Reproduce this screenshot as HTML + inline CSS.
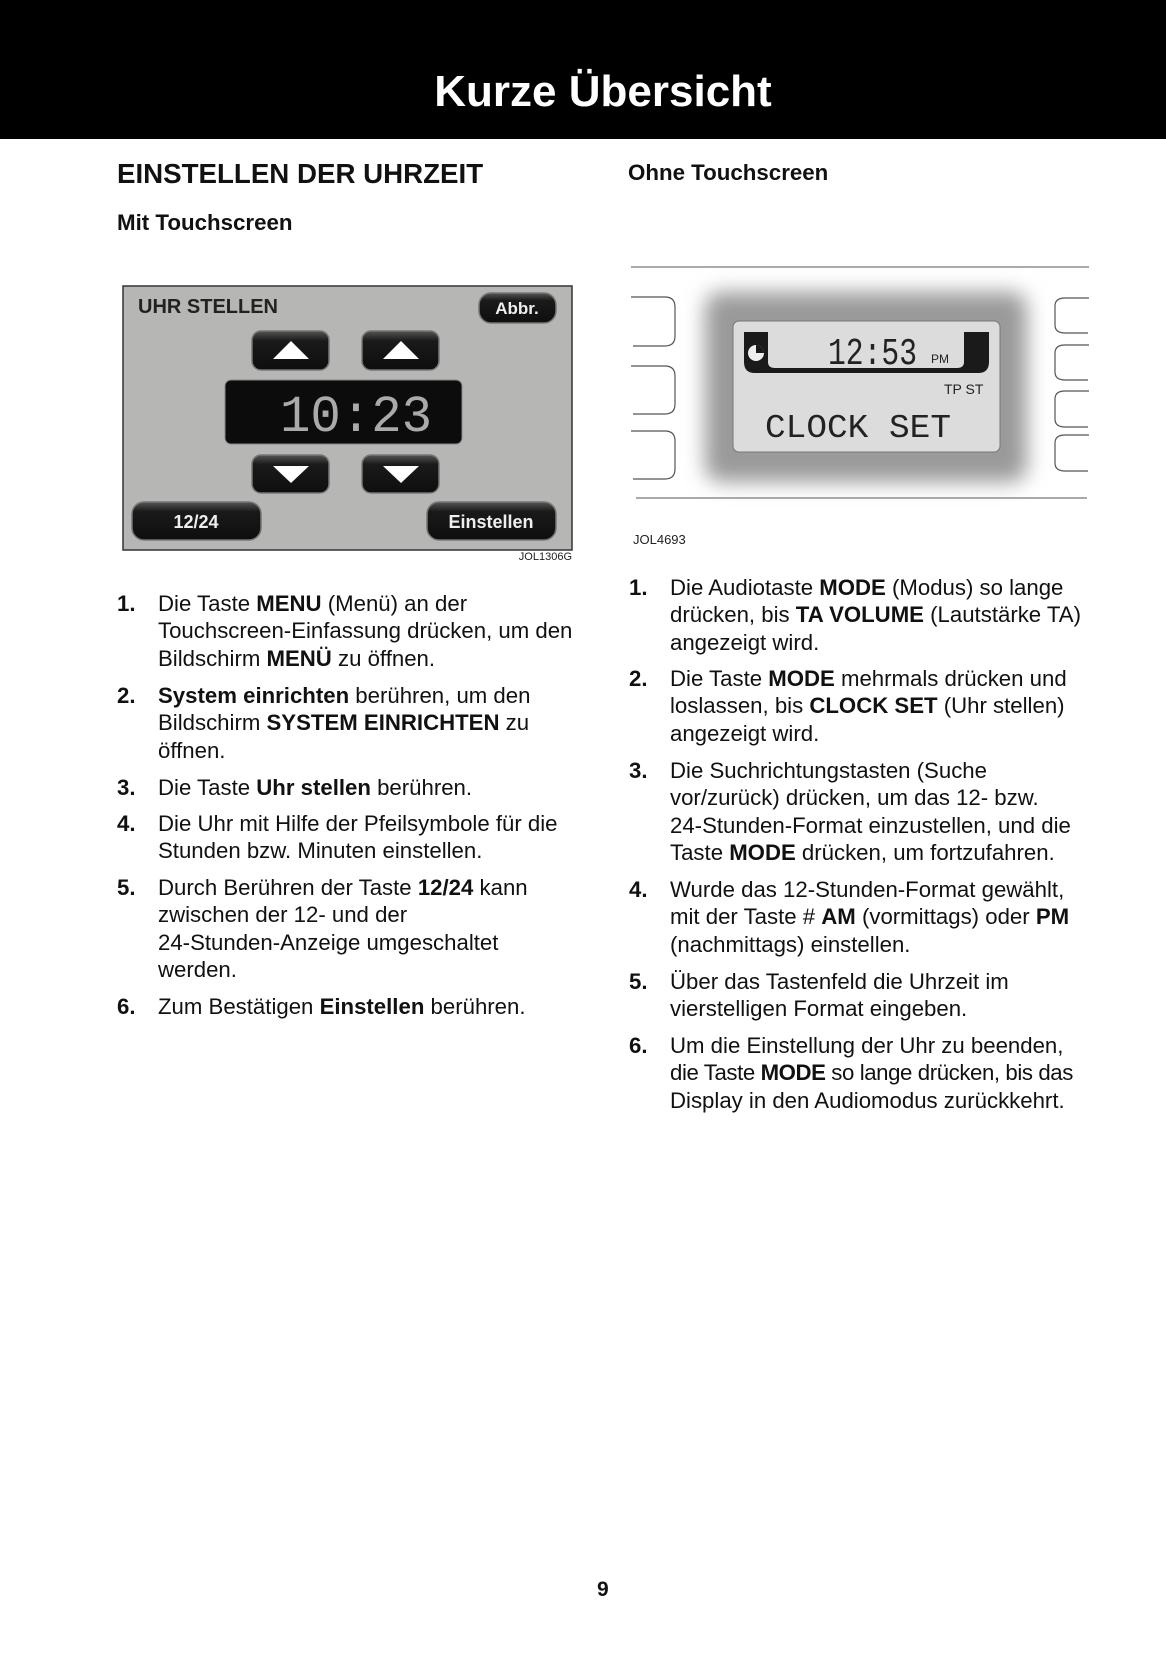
<!DOCTYPE html>
<html><head><meta charset="utf-8">
<style>
*{margin:0;padding:0;box-sizing:border-box}
body{width:1166px;height:1654px;background:#fff;position:relative;overflow:hidden;font-family:"Liberation Sans",Arial,sans-serif;color:#111}
.hdr{position:absolute;left:0;top:0;width:1166px;height:139px;background:#000}
.title{position:absolute;left:0;width:1166px;top:67px;text-align:center;color:#fff;font-weight:bold;font-size:44px;line-height:50px;padding-left:40px}
.h{position:absolute;font-weight:bold;white-space:nowrap}
.item{position:absolute;font-size:22.2px;line-height:27.4px;white-space:nowrap}
.item .n{position:absolute;left:0;top:0;font-weight:bold}
.item .t{position:absolute;top:0;left:41px}
b{font-weight:bold}
</style></head><body>
<div class="hdr"></div>
<div class="title">Kurze Übersicht</div>

<div class="h" style="left:117px;top:158px;font-size:27.7px;line-height:32px">EINSTELLEN DER UHRZEIT</div>
<div class="h" style="left:117px;top:210px;font-size:22.3px;line-height:26px">Mit Touchscreen</div>
<div class="h" style="left:628px;top:160px;font-size:22.3px;line-height:26px">Ohne Touchscreen</div>

<svg style="position:absolute;left:0;top:0" width="1166" height="600">
 <defs>
  <linearGradient id="btn" x1="0" y1="0" x2="0" y2="1"><stop offset="0" stop-color="#555"/><stop offset="0.25" stop-color="#1a1a1a"/><stop offset="1" stop-color="#0e0e0e"/></linearGradient>
  <filter id="blur" x="-20%" y="-20%" width="140%" height="140%"><feGaussianBlur stdDeviation="10"/></filter>
 </defs>
 <rect x="123" y="286" width="449" height="264" fill="#b6b6b4" stroke="#333" stroke-width="1.5"/>
 <text x="138" y="313" font-family="Liberation Sans" font-weight="bold" font-size="20" fill="#222">UHR STELLEN</text>
 <g stroke="#777" stroke-width="1.5" fill="url(#btn)">
  <rect x="479" y="293" width="77" height="30" rx="12"/>
  <rect x="252" y="331" width="77" height="39" rx="9"/>
  <rect x="362" y="331" width="77" height="39" rx="9"/>
  <rect x="252" y="455" width="77" height="38" rx="9"/>
  <rect x="362" y="455" width="77" height="38" rx="9"/>
  <rect x="132" y="502" width="129" height="38" rx="12"/>
  <rect x="427" y="502" width="129" height="38" rx="12"/>
 </g>
 <rect x="225" y="380" width="237" height="64" rx="6" fill="#0c0c0c" stroke="#888" stroke-width="1"/>
 <text x="280" y="431" font-family="Liberation Mono" font-size="52" fill="#aaa" textLength="152" lengthAdjust="spacingAndGlyphs">10:23</text>
 <g fill="#fff">
  <polygon points="273,359 291,341 309,359"/>
  <polygon points="383,359 401,341 419,359"/>
  <polygon points="273,466 309,466 291,483"/>
  <polygon points="383,466 419,466 401,483"/>
 </g>
 <text x="517" y="314" text-anchor="middle" font-family="Liberation Sans" font-weight="bold" font-size="17" fill="#eee">Abbr.</text>
 <text x="196" y="528" text-anchor="middle" font-family="Liberation Sans" font-weight="bold" font-size="18" fill="#eee">12/24</text>
 <text x="491" y="528" text-anchor="middle" font-family="Liberation Sans" font-weight="bold" font-size="18" fill="#eee">Einstellen</text>
 <text x="572" y="560" text-anchor="end" font-family="Liberation Sans" font-size="11" fill="#222">JOL1306G</text>

 <!-- Right figure -->
 <line x1="631" y1="267" x2="1089" y2="267" stroke="#555" stroke-width="1"/>
 <line x1="636" y1="498" x2="1087" y2="498" stroke="#555" stroke-width="1"/>
 <rect x="705" y="292" width="322" height="190" rx="16" fill="#9a9a9a" filter="url(#blur)"/>
 <rect x="733" y="321" width="267" height="131" rx="6" fill="#dcdcdc" stroke="#777" stroke-width="1"/>
 <path d="M744 332 H768 V362 Q768 368 775 368 H957 Q964 368 964 362 V332 H989 V362 Q989 373 978 373 H755 Q744 373 744 362 Z" fill="#1a1a1a"/>
 <circle cx="756" cy="353" r="8" fill="#eee"/>
 <path d="M756 353 V345 A8 8 0 0 1 764 353 Z" fill="#1a1a1a"/>
 <text x="828" y="364" font-family="Liberation Mono" font-size="38" fill="#222" textLength="89" lengthAdjust="spacingAndGlyphs">12:53</text>
 <text x="931" y="363" font-family="Liberation Sans" font-size="12" fill="#222">PM</text>
 <text x="944" y="394" font-family="Liberation Sans" font-size="14" fill="#222">TP  ST</text>
 <text x="765" y="437" font-family="Liberation Mono" font-size="33" fill="#222" textLength="186" lengthAdjust="spacingAndGlyphs">CLOCK SET</text>
 <g fill="none" stroke="#555" stroke-width="1.2">
  <path d="M631 297 H665 Q675 297 675 307 V336 Q675 346 665 346 H633"/>
  <path d="M631 366 H665 Q675 366 675 376 V404 Q675 414 665 414 H633"/>
  <path d="M631 431 H665 Q675 431 675 441 V469 Q675 479 665 479 H633"/>
  <path d="M1089 298 H1065 Q1055 298 1055 306 V325 Q1055 333 1065 333 H1088"/>
  <path d="M1089 345 H1065 Q1055 345 1055 353 V372 Q1055 380 1065 380 H1088"/>
  <path d="M1089 391 H1065 Q1055 391 1055 399 V419 Q1055 427 1065 427 H1088"/>
  <path d="M1089 435 H1065 Q1055 435 1055 443 V463 Q1055 471 1065 471 H1088"/>
 </g>
 <text x="633" y="544" font-family="Liberation Sans" font-size="13" fill="#222">JOL4693</text>
</svg>

<div class="item" style="left:117px;top:590px"><span class="n">1.</span><span class="t">Die Taste <b>MENU</b> (Menü) an der<br>Touchscreen-Einfassung drücken, um den<br>Bildschirm <b>MENÜ</b> zu öffnen.</span></div>
<div class="item" style="left:117px;top:682px"><span class="n">2.</span><span class="t"><b>System einrichten</b> berühren, um den<br>Bildschirm <b>SYSTEM EINRICHTEN</b> zu<br>öffnen.</span></div>
<div class="item" style="left:117px;top:774px"><span class="n">3.</span><span class="t">Die Taste <b>Uhr stellen</b> berühren.</span></div>
<div class="item" style="left:117px;top:810px"><span class="n">4.</span><span class="t">Die Uhr mit Hilfe der Pfeilsymbole für die<br>Stunden bzw. Minuten einstellen.</span></div>
<div class="item" style="left:117px;top:874px"><span class="n">5.</span><span class="t">Durch Berühren der Taste <b>12/24</b> kann<br>zwischen der 12- und der<br>24-Stunden-Anzeige umgeschaltet<br>werden.</span></div>
<div class="item" style="left:117px;top:993px"><span class="n">6.</span><span class="t">Zum Bestätigen <b>Einstellen</b> berühren.</span></div>

<div class="item" style="left:629px;top:574px"><span class="n">1.</span><span class="t">Die Audiotaste <b>MODE</b> (Modus) so lange<br>drücken, bis <b>TA VOLUME</b> (Lautstärke TA)<br>angezeigt wird.</span></div>
<div class="item" style="left:629px;top:665px"><span class="n">2.</span><span class="t">Die Taste <b>MODE</b> mehrmals drücken und<br>loslassen, bis <b>CLOCK SET</b> (Uhr stellen)<br>angezeigt wird.</span></div>
<div class="item" style="left:629px;top:757px"><span class="n">3.</span><span class="t">Die Suchrichtungstasten (Suche<br>vor/zurück) drücken, um das 12- bzw.<br>24-Stunden-Format einzustellen, und die<br>Taste <b>MODE</b> drücken, um fortzufahren.</span></div>
<div class="item" style="left:629px;top:876px"><span class="n">4.</span><span class="t">Wurde das 12-Stunden-Format gewählt,<br>mit der Taste # <b>AM</b> (vormittags) oder <b>PM</b><br>(nachmittags) einstellen.</span></div>
<div class="item" style="left:629px;top:968px"><span class="n">5.</span><span class="t">Über das Tastenfeld die Uhrzeit im<br>vierstelligen Format eingeben.</span></div>
<div class="item" style="left:629px;top:1032px"><span class="n">6.</span><span class="t">Um die Einstellung der Uhr zu beenden,<br><span style="letter-spacing:-0.4px">die Taste <b>MODE</b> so lange drücken, bis das</span><br>Display in den Audiomodus zurückkehrt.</span></div>

<div class="h" style="left:597px;top:1578px;font-size:21px;line-height:24px">9</div>
</body></html>
